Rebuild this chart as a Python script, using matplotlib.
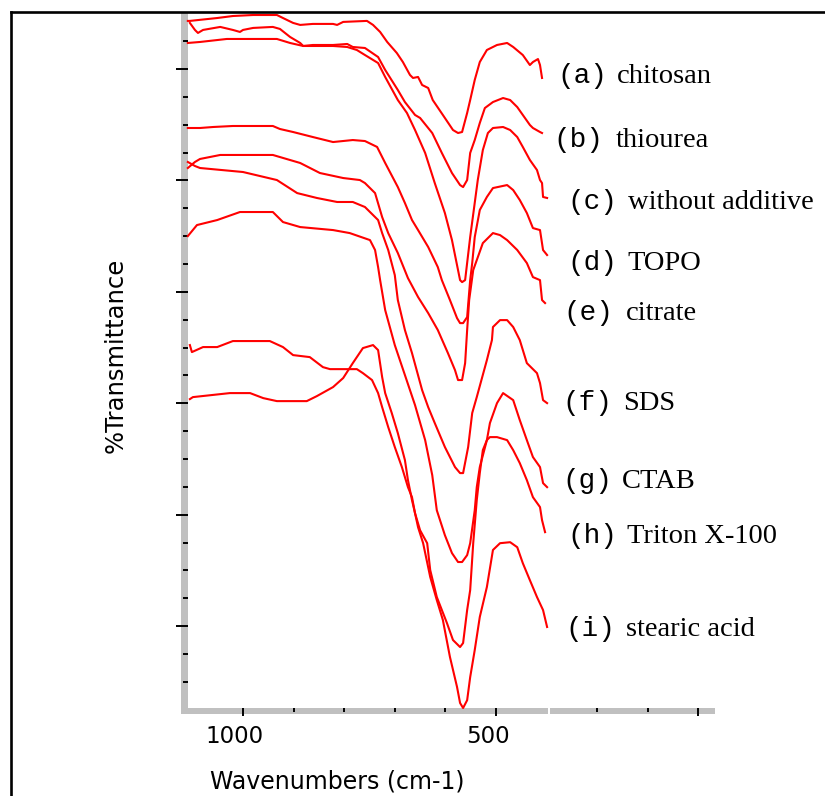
import matplotlib
matplotlib.use('Agg')
import matplotlib.pyplot as plt
from matplotlib.patches import Rectangle
from matplotlib.lines import Line2D
from matplotlib.ticker import FixedLocator
from matplotlib.transforms import ScaledTranslation

# ---- spectra: wavenumber (cm-1) / %T (arbitrary offset units) ----
wn_a = [1109, 1105, 1051, 1020, 980, 933, 921, 901, 887, 862, 822, 814, 802, 755, 743, 729, 715, 696,
        684, 670, 664, 654, 646, 634, 625, 605, 585, 575, 567, 557, 551, 542, 532, 518, 498, 478, 466,
        447, 433, 427, 417, 413, 409]
t_a = [64.31, 64.31, 64.57, 64.75, 64.84, 64.84, 64.57, 64.13, 63.95, 64.04, 64.04, 63.95, 64.22, 64.31,
       63.95, 63.32, 62.42, 61.43, 60.62, 59.46, 59.19, 59.28, 58.56, 58.29, 57.21, 55.87, 54.52, 54.25,
       54.34, 56.05, 57.21, 59.01, 60.62, 61.70, 62.15, 62.33, 61.97, 61.25, 60.35, 60.62, 60.89, 60.35,
       59.19]

wn_b = [1105, 1095, 1089, 1079, 1045, 1020, 1006, 1000, 980, 941, 927, 907, 887, 881, 862, 822, 794, 783,
        759, 733, 719, 694, 680, 660, 650, 626, 607, 587, 571, 565, 557, 551, 542, 532, 522, 506, 486,
        472, 458, 447, 433, 427, 413, 409]
t_b = [64.13, 63.50, 63.23, 63.50, 63.77, 63.50, 63.32, 63.50, 63.68, 63.77, 63.59, 62.87, 62.33, 62.06,
       62.15, 62.15, 62.24, 61.97, 61.88, 61.07, 59.91, 58.11, 57.03, 55.87, 55.60, 54.25, 52.46, 50.66,
       49.58, 49.40, 50.03, 52.46, 53.62, 55.15, 56.49, 57.03, 57.39, 57.21, 56.58, 55.87, 54.97, 54.70,
       54.34, 54.25]

wn_c = [1109, 1085, 1032, 933, 907, 881, 862, 822, 794, 775, 759, 733, 719, 694, 676, 660, 640, 621, 601,
        587, 571, 567, 561, 551, 536, 526, 516, 506, 486, 472, 458, 447, 433, 419, 413, 409, 407, 399]
t_c = [62.33, 62.42, 62.69, 62.69, 62.33, 62.06, 62.06, 62.06, 61.97, 61.70, 61.25, 60.53, 59.28, 57.21,
       56.05, 54.52, 52.46, 49.76, 47.07, 44.64, 41.05, 40.87, 41.05, 44.91, 50.03, 52.72, 54.25, 54.70,
       54.79, 54.52, 53.89, 53.00, 51.83, 50.93, 50.03, 49.76, 48.51, 48.42]

wn_d = [1109, 1085, 1059, 1020, 941, 927, 901, 862, 822, 783, 759, 735, 719, 694, 680, 666, 654, 634, 615,
        607, 591, 577, 571, 565, 557, 551, 547, 542, 532, 518, 506, 478, 466, 453, 439, 427, 413, 407, 399]
t_d = [54.70, 54.70, 54.79, 54.88, 54.88, 54.61, 54.34, 53.89, 53.44, 53.62, 53.53, 53.00, 51.56, 49.40,
       47.97, 46.44, 45.54, 44.02, 42.22, 41.05, 39.26, 37.64, 37.19, 37.19, 37.73, 41.05, 42.58, 44.91,
       47.34, 48.51, 49.31, 49.58, 49.13, 48.24, 47.07, 45.72, 45.54, 43.75, 43.30]

wn_e = [1109, 1095, 1085, 1045, 941, 887, 848, 802, 769, 759, 739, 725, 713, 694, 674, 654, 634, 615, 595,
        581, 575, 567, 561, 557, 553, 545, 526, 506, 492, 478, 458, 439, 427, 413, 409, 403]
t_e = [51.11, 51.65, 51.92, 52.28, 52.28, 51.56, 50.66, 50.21, 50.03, 49.76, 48.86, 46.71, 45.27, 43.48,
       41.23, 39.53, 38.09, 36.57, 34.50, 32.97, 32.08, 32.08, 33.60, 36.57, 39.26, 41.95, 44.37, 45.27,
       45.09, 44.64, 43.75, 42.58, 41.32, 41.05, 39.26, 38.99]

wn_f = [1109, 1095, 1085, 1000, 933, 893, 854, 814, 783, 759, 733, 725, 713, 700, 694, 680, 666, 646, 634,
        621, 601, 581, 571, 565, 555, 547, 538, 518, 508, 506, 492, 478, 466, 453, 439, 419, 413, 407, 399]
t_f = [51.65, 51.29, 51.11, 50.75, 50.03, 48.86, 48.42, 48.06, 48.06, 47.61, 46.44, 45.27, 43.75, 41.50,
       39.26, 36.57, 34.50, 31.18, 29.65, 28.22, 26.07, 24.27, 23.73, 23.73, 26.07, 29.12, 30.55, 33.87,
       35.67, 36.84, 37.46, 37.46, 36.84, 35.67, 33.60, 32.70, 31.81, 30.28, 30.01]

wn_g = [1109, 1091, 1051, 1006, 941, 921, 887, 822, 789, 749, 739, 733, 729, 719, 700, 680, 660, 640, 626,
        617, 601, 587, 575, 567, 557, 551, 542, 538, 532, 518, 512, 498, 486, 466, 453, 439, 427, 413, 407,
        399]
t_g = [45.00, 45.99, 46.44, 47.16, 47.16, 46.26, 45.81, 45.54, 45.27, 44.64, 43.75, 42.22, 41.05, 38.36,
       35.22, 32.53, 29.83, 26.69, 23.55, 20.40, 18.16, 16.55, 15.75, 15.75, 16.37, 17.44, 20.40, 22.47,
       24.27, 26.69, 28.22, 30.01, 30.91, 30.28, 28.49, 26.69, 25.17, 24.27, 22.83, 22.47]

wn_h = [1105, 1101, 1079, 1051, 1020, 947, 921, 901, 868, 842, 828, 775, 763, 745, 733, 725, 713, 700, 686,
        674, 666, 660, 650, 636, 630, 617, 597, 585, 571, 565, 557, 551, 545, 538, 532, 526, 518, 512, 498,
        478, 466, 453, 439, 427, 413, 409, 403]
t_h = [35.22, 34.59, 35.04, 35.04, 35.58, 35.58, 35.04, 34.32, 34.14, 33.24, 33.06, 33.06, 32.70, 32.08,
       30.91, 29.65, 27.86, 26.07, 24.27, 22.47, 21.57, 20.13, 18.60, 17.44, 15.03, 12.61, 10.28, 8.75,
       8.12, 8.48, 11.44, 13.23, 17.44, 21.30, 23.73, 25.79, 26.69, 26.96, 26.96, 26.69, 25.79, 24.63,
       23.10, 21.57, 20.68, 19.51, 18.43]

wn_i = [1105, 1099, 1026, 986, 960, 933, 874, 854, 822, 802, 783, 763, 743, 733, 725, 719, 706, 694, 680,
        674, 666, 660, 654, 644, 630, 617, 605, 591, 577, 571, 565, 557, 551, 542, 532, 518, 506, 492, 472,
        458, 447, 433, 419, 407, 399]
t_i = [30.37, 30.55, 30.91, 30.91, 30.46, 30.19, 30.19, 30.64, 31.45, 32.26, 33.60, 34.95, 35.22, 34.77,
       32.35, 30.91, 29.12, 27.32, 24.90, 23.10, 21.30, 20.13, 18.87, 17.44, 14.41, 12.34, 10.55, 7.23,
       4.54, 3.10, 2.65, 3.35, 5.42, 7.85, 10.82, 13.51, 16.83, 17.44, 17.53, 17.08, 15.65, 14.12, 12.61,
       11.44, 9.92]

codes = ['a', 'b', 'c', 'd', 'e', 'f', 'g', 'h', 'i']
names = ['chitosan', 'thiourea', 'without additive', 'TOPO', 'citrate', 'SDS', 'CTAB',
         'Triton X-100', 'stearic acid']
series = [(wn_a, t_a), (wn_b, t_b), (wn_c, t_c), (wn_d, t_d), (wn_e, t_e),
          (wn_f, t_f), (wn_g, t_g), (wn_h, t_h), (wn_i, t_i)]

# label layout (pixels in the 825x796 picture)
code_x = [557, 553, 567, 567, 563, 562, 562, 567, 565]
name_x = [617, 616, 628, 627, 626, 623, 622, 627, 626]
base_y = [83, 147, 209, 270, 320, 410, 488, 543, 636]

W, H = 825, 796
fig = plt.figure(figsize=(W / 100, H / 100), dpi=100, facecolor='white')

def fx(px):
    return px / W

def fy(py):
    return 1 - py / H

ax = fig.add_axes([fx(188), fy(708), (713 - 188) / W, (708 - 13) / H])
ax.patch.set_visible(False)
for s in ax.spines.values():
    s.set_visible(False)

for wn, t in series:
    ax.plot(wn, t, color='#ff0000', lw=1.5, clip_on=False)

ax.set_xlim(1108.7, 71.1)
ax.set_ylim(2.65, 65.02)

# ticks
ax.xaxis.set_major_locator(FixedLocator([1000, 500, 100]))
ax.xaxis.set_minor_locator(FixedLocator([900, 800, 700, 600, 300, 200]))
ax.set_xticklabels(['1000', '500', ''])
ax.yaxis.set_major_locator(FixedLocator([10, 20, 30, 40, 50, 60]))
ax.yaxis.set_minor_locator(FixedLocator([5, 7.5, 12.5, 15, 17.5, 22.5, 25, 27.5, 32.5, 35, 37.5,
                                         42.5, 45, 47.5, 52.5, 55, 57.5, 62.5]))
ax.tick_params(axis='x', which='major', direction='out', length=5.8, width=1.4,
               labelsize=16.5, pad=6.5)
ax.tick_params(axis='x', which='minor', direction='out', length=2.9, width=1.4)
ax.tick_params(axis='y', which='major', direction='out', length=8.6, width=1.4, labelleft=False)
ax.tick_params(axis='y', which='minor', direction='out', length=3.6, width=1.4)
shift = ScaledTranslation(-8 / 100, 0, fig.dpi_scale_trans)
for lab in ax.get_xticklabels():
    lab.set_transform(lab.get_transform() + shift)

ax.set_xlabel('Wavenumbers (cm-1)', fontsize=17, va='center')
ax.xaxis.set_label_coords((337 - 188) / 525, (708 - 781) / 695)
ax.set_ylabel('%Transmittance', fontsize=17.5, va='center')
ax.yaxis.set_label_coords((116 - 188) / 525, (708 - 355) / 695)

# grey axis bars behind the ticks
gray = '#c0c0c0'
fig.add_artist(Rectangle((fx(181), fy(714)), 7 / W, (714 - 13) / H, color=gray, zorder=-1, lw=0))
fig.add_artist(Rectangle((fx(181), fy(714)), (715 - 181) / W, 6 / H, color=gray, zorder=-1, lw=0))
fig.add_artist(Rectangle((fx(547.5), fy(714)), 2 / W, 6 / H, color='white', zorder=-1, lw=0))

# outer frame (left and top edges)
fig.add_artist(Line2D([fx(10.5), fx(10.5)], [fy(12), fy(800)], color='black', lw=1.9))
fig.add_artist(Line2D([fx(10.5), fx(830)], [fy(12), fy(12)], color='black', lw=1.9))

# curve labels
for c, n, x0, x1, yb in zip(codes, names, code_x, name_x, base_y):
    fig.text(fx(x0), fy(yb), '(' + c + ')', family='Liberation Mono', fontsize=20,
             va='baseline', ha='left')
    fig.text(fx(x1), fy(yb), n, family='Liberation Serif', fontsize=20.5,
             va='baseline', ha='left')

fig.savefig('out.png', dpi=100, facecolor='white')
